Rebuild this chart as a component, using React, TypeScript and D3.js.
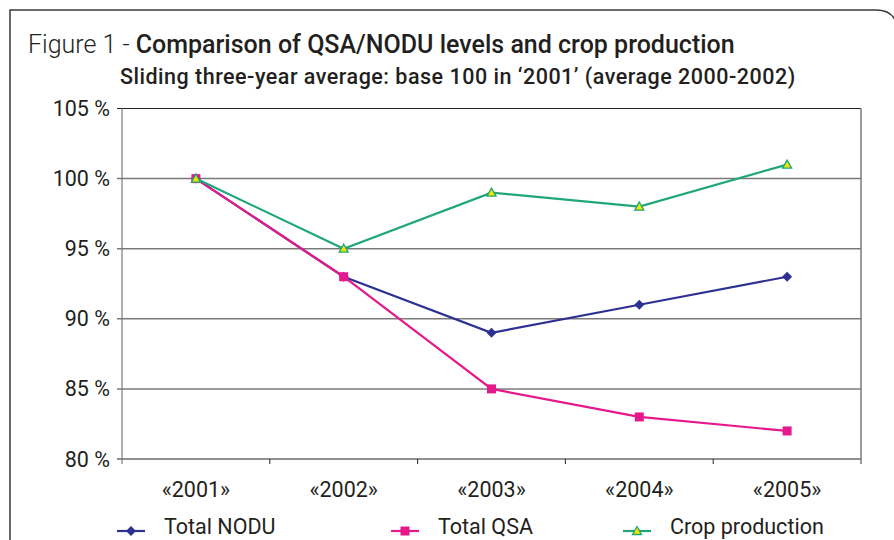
import React from 'react';
import * as d3 from 'd3';

const years = ['«2001»', '«2002»', '«2003»', '«2004»', '«2005»'];
const nodu = [100, 93, 89, 91, 93];
const qsa = [100, 93, 85, 83, 82];
const crop = [100, 95, 99, 98, 101];
const yTicks = [80, 85, 90, 95, 100, 105];

const W = 894;
const H = 540;
const FONT = "Roboto, 'Noto Sans', sans-serif";
const TEXT = '#231f20';

const series = [
  { name: 'Total NODU', values: nodu, color: '#2e3192', marker: 'diamond', lx: 117 },
  { name: 'Total QSA', values: qsa, color: '#e6198c', marker: 'square', lx: 391 },
  { name: 'Crop production', values: crop, color: '#1fa67a', marker: 'triangle', lx: 623 },
];

const Marker = ({ type, x, y, color }: { type: string; x: number; y: number; color: string }) => {
  if (type === 'diamond') {
    return <path d={`M${x},${y - 5}L${x + 5},${y}L${x},${y + 5}L${x - 5},${y}Z`} fill={color} />;
  }
  if (type === 'square') {
    return <rect x={x - 4.5} y={y - 4.5} width={9} height={9} fill={color} />;
  }
  return (
    <path
      d={`M${x},${y - 4.5}L${x + 4.5},${y + 3.5}L${x - 4.5},${y + 3.5}Z`}
      fill="#f2e600"
      stroke={color}
      strokeWidth={1.3}
    />
  );
};

export default function App() {
  const left = 122;
  const right = 861;
  const top = 108.5;
  const bottom = 459;

  const x = d3.scaleBand<string>().domain(years).range([left, right]);
  const y = d3.scaleLinear().domain([80, 105]).range([bottom, top]);
  const cx = (d: string) => (x(d) as number) + x.bandwidth() / 2;

  const line = d3
    .line<number>()
    .x((_, i) => cx(years[i]))
    .y((v) => y(v));

  return (
    <svg width={W} height={H} style={{ position: 'absolute', left: 0, top: 0, background: '#fff' }}>
      <path d={`M10,${H + 5}L10,10L876,10Q894,10 897,26`} fill="none" stroke="#3a3a3a" strokeWidth={1.5} />

      <text x={28} y={53} fontFamily={FONT} fontSize={25} fill={TEXT}>
        <tspan fontWeight={300}>Figure 1 - </tspan>
        <tspan fontWeight={500}>Comparison of QSA/NODU levels and crop production</tspan>
      </text>
      <text x={120} y={84} fontFamily={FONT} fontSize={21.5} fontWeight={500} letterSpacing={0.5} fill={TEXT}>
        Sliding three-year average: base 100 in ‘2001’ (average 2000-2002)
      </text>

      {yTicks.map((t) => (
        <g key={t}>
          <line
            x1={left - 5}
            x2={right}
            y1={y(t)}
            y2={y(t)}
            stroke={t === 80 || t === 105 ? '#222' : '#7a7a7a'}
            strokeWidth={t === 80 || t === 105 ? 1.2 : 1.5}
          />
          <text x={110} y={y(t) + 7.5} textAnchor="end" fontFamily={FONT} fontSize={21.5} fill={TEXT}>
            {t} %
          </text>
        </g>
      ))}
      <line x1={left} x2={left} y1={top} y2={bottom + 5} stroke="#7a7a7a" strokeWidth={1.2} />
      <line x1={right} x2={right} y1={top} y2={bottom + 5} stroke="#7a7a7a" strokeWidth={1.5} />

      {years.map((yr, i) => (
        <g key={yr}>
          {i > 0 && (
            <line x1={x(yr)} x2={x(yr)} y1={bottom} y2={bottom + 5} stroke="#222" strokeWidth={1} />
          )}
          <text x={cx(yr)} y={497} textAnchor="middle" fontFamily={FONT} fontSize={21.5} fill={TEXT}>
            {yr}
          </text>
        </g>
      ))}

      {series.map((s) => (
        <g key={s.name}>
          <path d={line(s.values) as string} fill="none" stroke={s.color} strokeWidth={2.2} />
          {s.values.map((v, i) => (
            <Marker key={i} type={s.marker} x={cx(years[i])} y={y(v)} color={s.color} />
          ))}
        </g>
      ))}

      {series.map((s) => (
        <g key={s.name + '-legend'}>
          <line x1={s.lx} x2={s.lx + 28} y1={531} y2={531} stroke={s.color} strokeWidth={2.2} />
          <Marker type={s.marker} x={s.lx + 14} y={531} color={s.color} />
          <text x={s.lx + 47} y={534} fontFamily={FONT} fontSize={21.5} fill={TEXT}>
            {s.name}
          </text>
        </g>
      ))}
    </svg>
  );
}
